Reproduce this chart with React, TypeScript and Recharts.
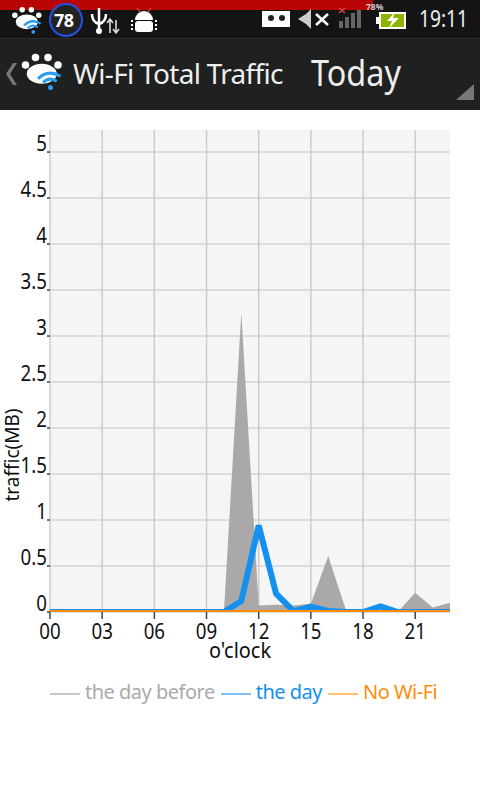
import { ComposedChart, Area, Line, XAxis, YAxis, CartesianGrid, Legend } from 'recharts';

const hours = [0, 1, 2, 3, 4, 5, 6, 7, 8, 9, 10, 11, 12, 13, 14, 15, 16, 17, 18, 19, 20, 21, 22, 23];
const dayBefore = [0, 0, 0, 0, 0, 0, 0, 0, 0, 0, 0, 3.25, 0.07, 0.08, 0.07, 0.09, 0.61, 0.03, 0, 0, 0, 0.21, 0.05, 0.1];
const theDay = [0, 0, 0, 0, 0, 0, 0, 0, 0, 0, 0, 0.12, 0.94, 0.2, 0.01, 0.06, 0.01, 0, 0, 0.06, 0, 0, 0, 0];
const noWifi = [0, 0, 0, 0, 0, 0, 0, 0, 0, 0, 0, 0, 0, 0, 0, 0, 0, 0, 0, 0, 0, 0, 0, 0];
const xTicks = [0, 3, 6, 9, 12, 15, 18, 21];
const yTicks = [0, 0.5, 1, 1.5, 2, 2.5, 3, 3.5, 4, 4.5, 5];

const legendItems = [
  { label: 'the day before', swatch: '#c8c8c8', color: '#aaaaaa' },
  { label: 'the day', swatch: '#80c0f6', color: '#1490ee' },
  { label: 'No Wi-Fi', swatch: '#ffc070', color: '#ff8c0a' },
];

const chartData = hours.map((h, i) => ({ h, before: dayBefore[i], day: theDay[i], none: noWifi[i] }));

const FONT = '"Noto Sans", sans-serif';

function XTick({ x, y, payload }: any) {
  return (
    <text transform={`translate(${x} ${y + 19}) scale(0.85 1)`} textAnchor="middle" fontSize={22} fontFamily={FONT} fill="#111">
      {String(payload.value).padStart(2, '0')}
    </text>
  );
}

function YTick({ x, y, payload }: any) {
  return (
    <text transform={`translate(${x + 2} ${y - 1}) scale(0.85 1)`} textAnchor="end" fontSize={22} fontFamily={FONT} fill="#111">
      {payload.value}
    </text>
  );
}

function ChartLegend() {
  return (
    <div style={{ display: 'flex', paddingLeft: 50, marginTop: 25, fontFamily: FONT, fontSize: 20, lineHeight: '30px' }}>
      {legendItems.map((it) => (
        <div key={it.label} style={{ display: 'flex', alignItems: 'center', marginRight: 6 }}>
          <span style={{ width: 30, height: 2, background: it.swatch, marginRight: 5, marginTop: 3 }} />
          <span style={{ color: it.color, letterSpacing: -0.5 }}>{it.label}</span>
        </div>
      ))}
    </div>
  );
}

function Paw({ x, y, s }: { x: number; y: number; s: number }) {
  return (
    <g transform={`translate(${x} ${y}) scale(${s})`}>
      <circle cx={2} cy={8} r={3} fill="#fff" />
      <circle cx={10} cy={2} r={3} fill="#fff" />
      <circle cx={20} cy={2} r={3} fill="#fff" />
      <circle cx={28} cy={8} r={3} fill="#fff" />
      <ellipse cx={15} cy={15} rx={12} ry={8} fill="#fff" />
      <path d="M12 19 Q20 11 30 17" stroke="#2a9df4" strokeWidth={2.5} fill="none" />
      <path d="M16 22 Q21 17 27 21" stroke="#2a9df4" strokeWidth={2.5} fill="none" />
      <circle cx={22} cy={26} r={2} fill="#2a9df4" />
    </g>
  );
}

function TopBars() {
  return (
    <div style={{ position: 'absolute', left: 0, top: 0, width: 480, height: 110, background: '#1f2020', overflow: 'hidden' }}>
      <div style={{ position: 'absolute', left: 0, top: 0, width: 480, height: 38, background: '#141414', borderBottom: '1px solid #2c2c2c' }} />
      <div style={{ position: 'absolute', left: 0, top: 0, width: 373, height: 10, background: '#b80606' }} />
      <svg width={480} height={110} style={{ position: 'absolute', left: 0, top: 0 }}>
        <Paw x={13} y={8} s={0.92} />
        <circle cx={66} cy={20} r={16} fill="#222" stroke="#2252e8" strokeWidth={2} />
        <path d="M99 8 V30 M92 14 Q92 22 99 24 Q106 22 106 14" stroke="#fff" strokeWidth={2.5} fill="none" />
        <circle cx={99} cy={31} r={3} fill="#fff" />
        <path d="M110 33 V20 M107 23 L110 19 L113 23 M116 20 V33 M113 29 L116 33 L119 29" stroke="#ddd" strokeWidth={1.6} fill="none" />
        <path d="M135 20 a9 9 0 0 1 18 0 z" fill="#fff" />
        <rect x={135} y={21} width={18} height={11} rx={3} fill="#fff" />
        <path d="M132 20 V30 M156 20 V30" stroke="#fff" strokeWidth={2} strokeDasharray="2 2" />
        <path d="M137 8 L140 12 M151 8 L148 12" stroke="#d33" strokeWidth={1.5} />
        <rect x={262} y={11} width={28} height={16} fill="#fff" />
        <circle cx={271} cy={18} r={3} fill="#222" />
        <circle cx={282} cy={18} r={3} fill="#222" />
        <path d="M298 19 L306 14 L311 9 V29 L306 24 Z" fill="#ccc" />
        <path d="M316 14 L328 25 M328 14 L316 25" stroke="#fff" strokeWidth={2.5} />
        <rect x={339} y={21} width={4} height={7} fill="#666" />
        <rect x={345} y={17} width={4} height={11} fill="#666" />
        <rect x={351} y={13} width={4} height={15} fill="#666" />
        <rect x={357} y={10} width={4} height={18} fill="#666" />
        <path d="M339 8 L345 13 M345 8 L339 13" stroke="#d44" strokeWidth={1.4} />
        <rect x={380} y={13} width={25} height={15} fill="#8fb400" stroke="#fff" strokeWidth={2} />
        <rect x={376} y={17} width={3} height={7} fill="#fff" />
        <path d="M395 12 L387 21 H392 L389 28 L399 18 H393 Z" fill="#fff" />
        <path d="M16 63 L9 74 L16 85 H12 L5 74 L12 63 Z" fill="#777" transform="translate(1 0)" />
        <Paw x={23} y={55} s={1.25} />
        <path d="M474 84 V100 H456 Z" fill="#777" />
        <text x={366} y={9.5} fontFamily={FONT} fontWeight={700} fontSize={8.5} fill="#ccc">78%</text>
        <text transform="translate(419 27) scale(0.8 1)" fontFamily={FONT} fontSize={24} fill="#eee">19:11</text>
        <text transform="translate(311 86) scale(0.9 1)" fontFamily={FONT} fontSize={36} fill="#eee">Today</text>
      </svg>
      <div style={{ position: 'absolute', left: 54, top: 8, fontFamily: FONT, fontWeight: 700, fontSize: 18, color: '#fff', letterSpacing: -0.5 }}>78</div>
      <div style={{ position: 'absolute', left: 73, top: 54, fontFamily: FONT, fontSize: 28, color: '#eee', letterSpacing: -0.7 }}>Wi-Fi Total Traffic</div>
    </div>
  );
}

export default function App() {
  return (
    <div style={{ position: 'absolute', left: 0, top: 0, width: 480, height: 800, background: '#fff', overflow: 'hidden' }}>
      <TopBars />
      <div style={{ position: 'absolute', left: 0, top: 110 }}>
        <ComposedChart width={480} height={590} data={chartData} margin={{ top: 20, right: 30, bottom: 0, left: 0 }}>
          <CartesianGrid fill="#f5f5f5" stroke="#dddddd" strokeWidth={2} vertical={false} horizontalValues={yTicks} />
          <CartesianGrid fill="none" stroke="#cccccc" strokeWidth={1.5} horizontal={false} verticalValues={xTicks} />
          <XAxis
            dataKey="h"
            type="number"
            domain={[0, 23]}
            ticks={xTicks}
            height={40}
            interval={0}
            allowDataOverflow
            tick={<XTick />}
            tickLine={{ stroke: '#444', strokeWidth: 1.5 }}
            tickSize={7}
            tickMargin={1}
            axisLine={false}
            label={{
              content: () => (
                <text transform="translate(240 548) scale(0.95 1)" textAnchor="middle" fontSize={21} fontFamily={FONT} fill="#111">
                  o'clock
                </text>
              ),
            }}
          />
          <YAxis
            type="number"
            domain={[0, 5.24]}
            ticks={yTicks}
            width={50}
            interval={0}
            allowDataOverflow
            tick={<YTick />}
            tickLine={{ stroke: '#444', strokeWidth: 1.5 }}
            tickSize={3}
            axisLine={false}
            label={{
              content: () => (
                <text transform="translate(19 345) rotate(-90)" textAnchor="middle" fontSize={19} fontFamily={FONT} fill="#111">
                  traffic(MB)
                </text>
              ),
            }}
          />
          <Legend verticalAlign="bottom" height={48} content={<ChartLegend />} />
          <Area dataKey="before" type="linear" fill="#aaa8a9" fillOpacity={1} stroke="none" dot={false} isAnimationActive={false} />
          <Line dataKey="day" type="linear" stroke="#1490ee" strokeWidth={6} dot={false} isAnimationActive={false} />
          <Line dataKey="none" type="linear" stroke="#ff8c0a" strokeWidth={4} dot={false} isAnimationActive={false} />
        </ComposedChart>
      </div>
    </div>
  );
}
